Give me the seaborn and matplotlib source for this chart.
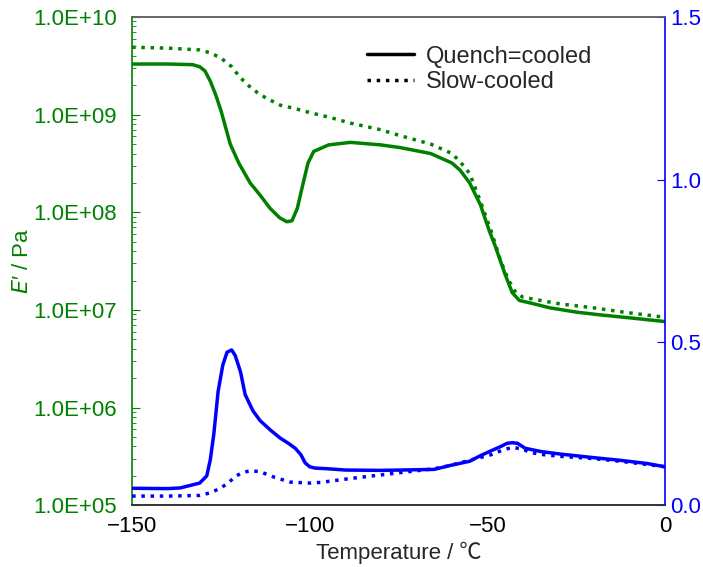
import numpy as np
import pandas as pd
import matplotlib
matplotlib.use("Agg")
import matplotlib.pyplot as plt
import seaborn as sns
from matplotlib.lines import Line2D

sns.set_style("white")
plt.rcParams['font.family'] = ['Liberation Sans', 'Noto Sans CJK JP', 'DejaVu Sans']

# 储能模量 E' (Pa) —— 急冷 / 缓冷
t_eq = [-150, -140, -133, -131, -129.5, -128, -126.5, -125, -122.4, -120, -116.8, -114, -111.2,
        -108.5, -106.5, -105, -103.5, -102, -100.5, -98.9, -94.7, -88.6, -80, -74.6, -66, -60,
        -57.7, -55, -52, -49.5, -47.8, -45, -43, -41, -38, -32.4, -25, -18.3, -10, 0]
e_q = [3.3e9, 3.3e9, 3.25e9, 3.1e9, 2.8e9, 2.2e9, 1.6e9, 1.1e9, 5.0e8, 3.2e8, 2.0e8, 1.5e8, 1.1e8,
       8.8e7, 8.0e7, 8.2e7, 1.1e8, 1.9e8, 3.2e8, 4.2e8, 4.9e8, 5.2e8, 4.9e8, 4.6e8, 4.0e8, 3.2e8,
       2.7e8, 2.0e8, 1.2e8, 6.5e7, 4.5e7, 2.3e7, 1.5e7, 1.25e7, 1.18e7, 1.05e7, 9.5e6, 8.9e6,
       8.3e6, 7.6e6]
t_es = [-150, -140, -131, -128, -125, -122, -119.6, -117, -114, -111, -108.3, -104, -100, -94,
        -88.6, -80, -74.6, -66, -60, -57.7, -55, -52, -49, -46.3, -44, -42, -40, -35, -29.4, -20,
        -12.7, 0]
e_s = [4.9e9, 4.8e9, 4.6e9, 4.3e9, 3.8e9, 3.1e9, 2.4e9, 1.95e9, 1.6e9, 1.4e9, 1.25e9, 1.15e9, 1.05e9,
       9.3e8, 8.2e8, 7.0e8, 6.1e8, 5.0e8, 4.0e8, 3.3e8, 2.5e8, 1.3e8, 6.5e7, 3.2e7, 2.0e7, 1.5e7,
       1.35e7, 1.25e7, 1.15e7, 1.05e7, 9.6e6, 8.4e6]

# 损耗角正切 tan δ —— 急冷 / 缓冷
t_tq = [-150, -140, -136.5, -131, -129, -128, -127, -125.8, -124.5, -123.3, -122, -121, -119.5,
        -118.2, -116, -114, -111, -108.3, -106, -104.1, -102.5, -101.3, -100, -98.5, -95, -90,
        -80, -74.6, -65, -60.5, -55, -52, -49, -46.3, -44.5, -43, -41.5, -39.4, -35, -29.4, -20,
        -12.7, -5, 0]
tan_q = [0.052, 0.051, 0.053, 0.068, 0.09, 0.14, 0.22, 0.35, 0.43, 0.47, 0.477, 0.46, 0.41,
         0.34, 0.29, 0.26, 0.23, 0.206, 0.19, 0.175, 0.155, 0.13, 0.118, 0.114, 0.112, 0.108,
         0.107, 0.108, 0.11, 0.122, 0.135, 0.152, 0.167, 0.18, 0.19, 0.192, 0.19, 0.175, 0.165,
         0.157, 0.146, 0.138, 0.128, 0.118]
t_ts = [-150, -140, -131, -128, -125.2, -123, -121, -119, -116.8, -114, -112.6, -110, -105.5,
        -100, -97, -88.6, -80, -74.6, -65, -60.5, -55, -49, -46, -43, -40, -38, -34, -29.4, -20,
        -12.7, -5, 0]
tan_s = [0.028, 0.028, 0.030, 0.038, 0.052, 0.068, 0.088, 0.100, 0.106, 0.103, 0.097, 0.086, 0.071,
         0.068, 0.07, 0.082, 0.093, 0.1, 0.112, 0.122, 0.138, 0.155, 0.168, 0.178, 0.172, 0.162,
         0.155, 0.15, 0.143, 0.135, 0.125, 0.118]

green = "#008000"
blue = "#0000ff"
lw = 2.5

fig = plt.figure(figsize=(7.03, 5.67), dpi=100)
ax = fig.add_subplot(111)
fig.subplots_adjust(left=0.188, right=0.946, top=0.970, bottom=0.109)

sns.lineplot(x=t_eq, y=e_q, ax=ax, color=green, linewidth=lw, linestyle='-')
sns.lineplot(x=t_es, y=e_s, ax=ax, color=green, linewidth=lw, linestyle=':')
ax.set_yscale('log')
ax.set_ylim(1e5, 1e10)
ax.set_xlim(-150, 0)
ax.set_xticks([-150, -100, -50, 0])
ax.set_xticklabels(['\u2212150', '\u2212100', '\u221250', '0'])
ax.set_yticks([1e5, 1e6, 1e7, 1e8, 1e9, 1e10])
ax.set_yticklabels(['1.0E+05', '1.0E+06', '1.0E+07', '1.0E+08', '1.0E+09', '1.0E+10'])
ax.tick_params(axis='y', which='both', direction='in', colors=green, labelsize=16,
               right=False, pad=11)
ax.tick_params(axis='y', which='major', length=6)
ax.tick_params(axis='y', which='minor', length=3)
ax.tick_params(axis='x', direction='in', length=6, colors='#333333', labelcolor='black',
               labelsize=16, pad=8, top=False)
ax.set_xlabel('Temperature / \u2103', fontsize=16, labelpad=3)
ax.set_ylabel('$E$\u2032 / Pa', fontsize=16, color=green, labelpad=0)

ax2 = ax.twinx()
sns.lineplot(x=t_tq, y=tan_q, ax=ax2, color=blue, linewidth=lw, linestyle='-')
sns.lineplot(x=t_ts, y=tan_s, ax=ax2, color=blue, linewidth=lw, linestyle=':')
ax2.set_ylim(0, 1.5)
ax2.set_yticks([0.0, 0.5, 1.0, 1.5])
ax2.set_yticklabels(['0.0', '0.5', '1.0', '1.5'])
ax2.tick_params(axis='y', direction='in', length=6, colors=blue, labelsize=16, pad=4)

ax.spines['left'].set_color(green)
ax2.spines['left'].set_visible(False)
ax2.spines['right'].set_color(blue)
ax.spines['right'].set_visible(False)
for a in (ax, ax2):
    a.spines['top'].set_color('#666666')
    a.spines['bottom'].set_color('#333333')
for s in ['left', 'right', 'top', 'bottom']:
    ax.spines[s].set_linewidth(1.2)
    ax2.spines[s].set_linewidth(1.2)

handles = [Line2D([], [], color='black', linewidth=lw, linestyle='-'),
           Line2D([], [], color='black', linewidth=lw, linestyle=':')]
ax2.legend(handles, ['Quench=cooled', 'Slow-cooled'], loc='upper left',
           bbox_to_anchor=(0.40, 0.985), frameon=False, fontsize=17,
           handlelength=2.0, handletextpad=0.5, labelspacing=0.15)

fig.savefig("out.png", dpi=100)
